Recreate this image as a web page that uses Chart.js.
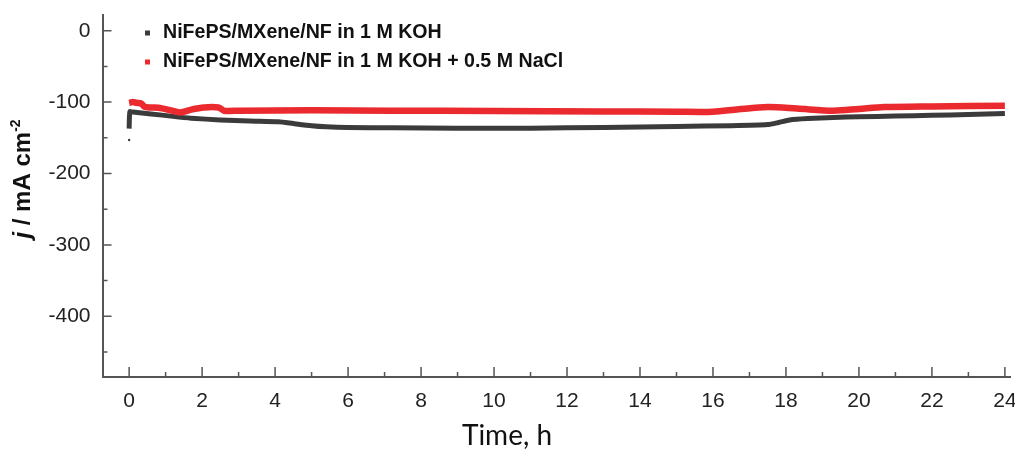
<!DOCTYPE html>
<html><head><meta charset="utf-8">
<script src="https://cdn.jsdelivr.net/npm/chart.js@4.4.1/dist/chart.umd.min.js"></script>
<style>html,body{margin:0;padding:0;background:#fff}</style>
</head><body>
<canvas id="c" width="1015" height="450"></canvas>
<script>
const seriesLabels = ["NiFePS/MXene/NF in 1 M KOH", "NiFePS/MXene/NF in 1 M KOH + 0.5 M NaCl"];
const kohTime = [0, 0.02, 0.1, 0.6, 1.2, 1.7, 2.5, 3.3, 4.1, 4.5, 5.0, 5.4, 6, 7.2, 9, 11, 13, 15, 16.5, 17.5, 17.8, 18.1, 18.6, 19.3, 20, 21, 22, 23, 24];
const kohJ = [-137, -113.5, -114, -116.5, -120, -122.5, -125, -126.5, -127.5, -130, -133, -134.5, -135.5, -136, -136.5, -136.5, -135.5, -134, -133, -131.5, -128.5, -125, -123, -121.5, -120.5, -119.5, -118.5, -117.5, -116];
const kohSpikeTime = [0];
const kohSpikeJ = [-153];
const naclTime = [0, 0.1, 0.2, 0.33, 0.42, 0.6, 0.8, 1.1, 1.4, 1.7, 2.05, 2.45, 2.6, 3, 5, 7.2, 10, 13, 15, 16, 16.7, 17.5, 18.3, 19.3, 20, 20.7, 22, 24];
const naclJ = [-101, -100, -101, -102, -106.5, -107.5, -108, -111, -114.5, -110.5, -107.5, -107.5, -112, -112, -111.5, -112, -112.5, -113, -113.5, -113.5, -110, -107, -109, -112, -109.5, -107, -106, -105];
const xTicks = [0, 2, 4, 6, 8, 10, 12, 14, 16, 18, 20, 22, 24];
const xMinorTicks = [1, 3, 5, 7, 9, 11, 13, 15, 17, 19, 21, 23];
const yTicks = [0, -100, -200, -300, -400];
const yTickLabels = ["0", "-100", "-200", "-300", "-400"];
const yMinorTicks = [-50, -150, -250, -350, -450];
const xTitle = "Time, h";

const colKOH = "#3b3b3b", colNaCl = "#ea2a2e", axisCol = "#555";
const zip = (a, b) => a.map((v, i) => ({x: v, y: b[i]}));

const decor = {
  id: 'decor',
  afterDraw(chart) {
    const ctx = chart.ctx, xs = chart.scales.x, ys = chart.scales.y;
    const bottom = chart.chartArea.bottom, left = chart.chartArea.left;
    ctx.save();
    ctx.strokeStyle = axisCol; ctx.lineWidth = 1.5;
    ctx.beginPath();
    xTicks.forEach(v => { const p = xs.getPixelForValue(v); ctx.moveTo(p, bottom); ctx.lineTo(p, bottom - 10); });
    xMinorTicks.forEach(v => { const p = xs.getPixelForValue(v); ctx.moveTo(p, bottom); ctx.lineTo(p, bottom - 5); });
    yTicks.forEach(v => { const p = ys.getPixelForValue(v); ctx.moveTo(left, p); ctx.lineTo(left + 9, p); });
    yMinorTicks.forEach(v => { const p = ys.getPixelForValue(v); ctx.moveTo(left, p); ctx.lineTo(left + 5, p); });
    ctx.stroke();

    // legend
    const lg = [[colKOH, 33], [colNaCl, 62]];
    ctx.font = "bold 19.6px 'Liberation Sans', Arial, sans-serif";
    ctx.textBaseline = "middle"; ctx.textAlign = "left";
    lg.forEach((e, i) => {
      ctx.fillStyle = e[0];
      ctx.fillRect(145, e[1] - 2.5, 5, 5);
      ctx.fillStyle = "#111";
      ctx.fillText(seriesLabels[i], 163, e[1]);
    });

    // x title
    ctx.font = "28px Lato, 'Open Sans', sans-serif";
    ctx.textAlign = "center"; ctx.textBaseline = "alphabetic"; ctx.fillStyle = "#111";
    ctx.fillText(xTitle, 507, 445);

    // y title
    ctx.translate(30, 179); ctx.rotate(-Math.PI / 2);
    const f1 = "italic bold 24px 'Liberation Sans', Arial, sans-serif";
    const f2 = "bold 24px 'Liberation Sans', Arial, sans-serif";
    const f3 = "bold 14px 'Liberation Sans', Arial, sans-serif";
    const parts = [["j", f1, 0], [" / mA cm", f2, 0], ["-2", f3, -10]];
    let w = 0;
    parts.forEach(p => { ctx.font = p[1]; w += ctx.measureText(p[0]).width; });
    let x = -w / 2;
    ctx.textAlign = "left";
    parts.forEach(p => { ctx.font = p[1]; ctx.fillText(p[0], x, p[2]); x += ctx.measureText(p[0]).width; });
    ctx.restore();
  }
};

new Chart(document.getElementById('c'), {
  type: 'line',
  data: {
    datasets: [
      {label: seriesLabels[1], data: zip(naclTime, naclJ), borderColor: colNaCl, borderWidth: 6.5, pointRadius: 0, tension: 0.3, order: 0},
      {label: seriesLabels[0], data: zip(kohTime, kohJ), borderColor: colKOH, borderWidth: 5, pointRadius: 0, tension: 0.2, order: 1},
      {label: 'spike', data: zip(kohSpikeTime, kohSpikeJ), showLine: false, pointRadius: 1.2, pointBackgroundColor: colKOH, pointBorderWidth: 0, order: 2}
    ]
  },
  options: {
    responsive: false, animation: false, devicePixelRatio: 1,
    layout: {padding: {left: 0, right: 5, top: 15, bottom: 0}},
    plugins: {legend: {display: false}, tooltip: {enabled: false}},
    scales: {
      x: {
        type: 'linear', min: -0.73, max: 24.14,
        afterBuildTicks: s => { s.ticks = xTicks.map(v => ({value: v})); },
        afterFit: s => { s.height = 73; s.paddingLeft = 0; s.paddingRight = 0; },
        grid: {display: false},
        border: {display: true, color: axisCol, width: 2},
        ticks: {font: {family: "'Liberation Sans', Arial, sans-serif", size: 21}, color: "#222", padding: 4, maxRotation: 0, callback: v => String(v)}
      },
      y: {
        min: -485, max: 22,
        afterBuildTicks: s => { s.ticks = yTicks.map(v => ({value: v})); },
        afterFit: s => { s.width = 102.5; s.paddingTop = 0; s.paddingBottom = 0; },
        grid: {display: false},
        border: {display: true, color: axisCol, width: 2},
        ticks: {font: {family: "'Liberation Sans', Arial, sans-serif", size: 21}, color: "#222", padding: 4, callback: (v) => yTickLabels[yTicks.indexOf(v)]}
      }
    }
  },
  plugins: [decor]
});
</script>
</body></html>
